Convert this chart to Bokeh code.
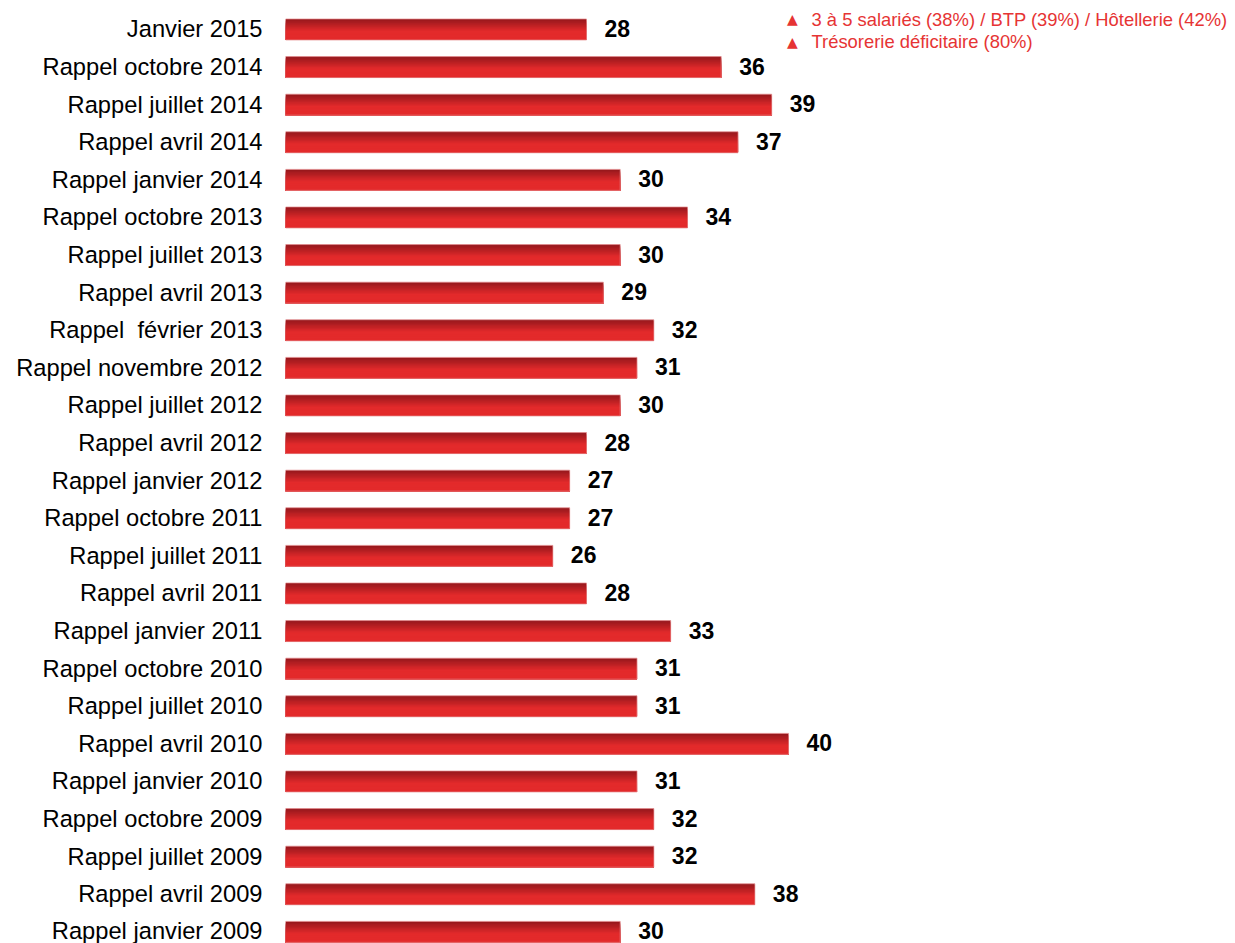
from bokeh.plotting import figure
from bokeh.models import Range1d, FixedTicker, Label, ColumnDataSource
from bokeh.transform import dodge
from bokeh.core.properties import value
from bokeh.embed import file_html
from bokeh.resources import INLINE

categories = [
    "Janvier 2015", "Rappel octobre 2014", "Rappel juillet 2014", "Rappel avril 2014",
    "Rappel janvier 2014", "Rappel octobre 2013", "Rappel juillet 2013", "Rappel avril 2013",
    "Rappel\u00a0 février 2013", "Rappel novembre 2012", "Rappel juillet 2012", "Rappel avril 2012",
    "Rappel janvier 2012", "Rappel octobre 2011", "Rappel juillet 2011", "Rappel avril 2011",
    "Rappel janvier 2011", "Rappel octobre 2010", "Rappel juillet 2010", "Rappel avril 2010",
    "Rappel janvier 2010", "Rappel octobre 2009", "Rappel juillet 2009", "Rappel avril 2009",
    "Rappel janvier 2009",
]
values = [28, 36, 39, 37, 30, 34, 30, 29, 32, 31, 30, 28, 27, 27, 26, 28, 33, 31, 31, 40,
          31, 32, 32, 38, 30]
notes = ["3 à 5 salariés (38%) / BTP (39%) / Hôtellerie (42%)", "Trésorerie déficitaire (80%)"]

FONT = "Liberation Sans"
W, H = 1235, 943
pos = list(range(len(categories)))
src = ColumnDataSource(dict(y=pos, v=values, lbl=[str(v) for v in values]))

p = figure(width=W, height=H, output_backend="svg", toolbar_location=None,
           x_range=Range1d(10.12, 66.55), y_range=Range1d(24.309, -0.771),
           min_border_left=285, min_border_right=0, min_border_top=0, min_border_bottom=0,
           x_axis_location=None)
p.outline_line_color = None
p.xgrid.visible = False
p.ygrid.visible = False
p.background_fill_color = "white"

# gradient bars: layers anchored at the bar bottom, each starting a bit lower
bar_h = 0.5585
N = 16
def mix(c1, c2, t):
    return "#%02x%02x%02x" % tuple(int(round(a + (b - a) * t)) for a, b in zip(c1, c2))
top_c = (0x93, 0x17, 0x1c)
bot_c = (0xe3, 0x2a, 0x2b)
strip = bar_h / N
for k in range(N):
    t = min(1.0, (k + 0.5) / (N * 0.58))
    col = mix(top_c, bot_c, t)
    p.hbar(y=dodge("y", k * strip / 2), right="v", left=0, height=bar_h - k * strip,
           source=src, fill_color=col, line_color=None)
p.hbar(y="y", right="v", left=0, height=bar_h, source=src,
       fill_color=None, line_color="#e58a8b", line_width=1, line_alpha=0.7)

p.text(x="v", y="y", text="lbl", source=src, x_offset=18, y_offset=-1, text_baseline="middle",
       text_align="left", text_font=value(FONT), text_font_style="bold",
       text_font_size="23px", text_color="#000000")

ax = p.yaxis[0]
ax.ticker = FixedTicker(ticks=pos)
ax.major_label_overrides = {i: c for i, c in zip(pos, categories)}
ax.axis_line_color = None
ax.major_tick_line_color = None
ax.minor_tick_line_color = None
ax.major_tick_out = 0
ax.major_tick_in = 0
ax.major_label_standoff = 23
ax.major_label_text_font = FONT
ax.major_label_text_font_size = "23.7px"
ax.major_label_text_color = "#000000"

red = "#e63434"
for i, n in enumerate(notes):
    yy = H - 18.5 - 22.5 * i
    p.add_layout(Label(x=792 - 285, y=yy, x_units="screen", y_units="screen",
                       text="▲", text_font="DejaVu Sans", text_font_size="14px",
                       text_color=red, text_align="center", text_baseline="middle"))
    p.add_layout(Label(x=811 - 285, y=yy, x_units="screen", y_units="screen",
                       text=n, text_font=FONT, text_font_size="18.4px",
                       text_color=red, text_align="left", text_baseline="middle"))

open("out.html", "w").write(file_html(p, INLINE))
